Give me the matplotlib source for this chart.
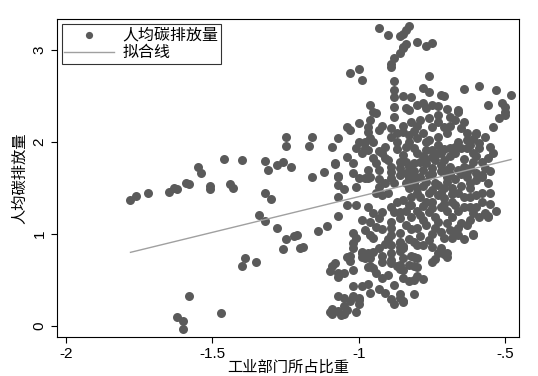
import matplotlib
matplotlib.use("Agg")
import matplotlib.pyplot as plt
import numpy as np

plt.rcParams['font.family'] = ['Liberation Sans', 'DejaVu Sans']

# industry share (log) vs per-capita carbon emission (log)
sparse_pts = [
    (-1.78, 1.37), (-1.76, 1.41), (-1.72, 1.45), (-1.65, 1.46), (-1.62, 1.49), (-1.63, 1.50),
    (-1.59, 1.55), (-1.58, 1.54), (-1.55, 1.73), (-1.54, 1.66), (-1.51, 1.52), (-1.51, 1.49),
    (-1.46, 1.82), (-1.40, 1.80), (-1.32, 1.79), (-1.44, 1.54), (-1.43, 1.50), (-1.34, 1.21),
    (-1.32, 1.14), (-1.32, 1.45), (-1.40, 0.65), (-1.39, 0.74), (-1.35, 0.69), (-1.58, 0.33),
    (-1.62, 0.10), (-1.60, 0.05), (-1.60, -0.03), (-1.47, 0.14), (-1.31, 1.70),
    (-1.28, 1.75), (-1.26, 1.78), (-1.23, 1.73), (-1.25, 2.05), (-1.25, 1.96), (-1.16, 2.05),
    (-1.17, 1.96), (-1.07, 2.04), (-1.09, 1.95), (-1.16, 1.62), (-1.12, 1.67), (-1.08, 1.76),
    (-1.07, 1.62), (-1.04, 1.84), (-1.30, 1.38), (-1.28, 1.07), (-1.25, 0.95), (-1.26, 0.84),
    (-1.22, 0.98), (-1.20, 0.85), (-1.19, 0.86), (-1.14, 1.03), (-1.11, 1.09), (-1.07, 1.20),
    (-1.05, 1.49), (-1.21, 0.99),
]

lower_pts = [
    (-1.09, 0.65), (-1.08, 0.68), (-1.10, 0.60), (-1.07, 0.57), (-1.05, 0.58), (-1.07, 0.33),
    (-1.09, 0.18), (-1.07, 0.16), (-1.05, 0.22), (-1.09, 0.13), (-1.05, 0.13), (-1.03, 0.27),
    (-1.00, 0.30), (-1.00, 0.24), (-1.02, 0.43), (-0.99, 0.43), (-0.97, 0.46), (-0.96, 0.36),
    (-0.93, 0.40), (-0.91, 0.36), (-0.89, 0.29), (-0.88, 0.24), (-0.86, 0.35), (-0.85, 0.27),
    (-0.81, 0.35), (-0.92, 0.52), (-1.03, 0.76), (-1.03, 0.71), (-0.99, 0.79), (-0.98, 0.74),
    (-0.96, 0.65), (-0.93, 0.85), (-0.91, 0.89), (-0.92, 0.76), (-0.89, 0.68), (-0.87, 0.65),
    (-0.86, 0.62), (-0.83, 0.49), (-0.81, 0.65), (-0.80, 0.54), (-0.78, 0.51), (-0.86, 0.82),
    (-0.85, 0.74), (-0.82, 0.76), (-0.80, 0.74), (-0.74, 0.73), (-0.71, 0.78), (-0.86, 0.90),
    (-0.85, 0.87), (-1.04, 0.17), (-1.06, 0.12), (-1.10, 0.15), (-1.01, 0.15), (-1.00, 0.28),
    (-1.02, 0.32), (-1.05, 0.30), (-0.86, 0.30), (-0.97, 0.64), (-0.95, 0.63), (-0.99, 0.75),
    (-0.96, 0.74), (-0.89, 0.72), (-0.86, 0.66), (-1.02, 0.61), (-1.07, 0.53), (-0.80, 0.64),
    (-0.83, 0.66), (-0.75, 0.70), (-0.70, 0.75), (-0.85, 0.61), (-0.85, 0.52), (-0.81, 0.50),
    (-0.85, 0.26), (-1.04, 0.75), (-0.92, 0.70), (-0.94, 0.58), (-0.90, 0.55), (-0.88, 0.45),
]

middle_pts = [
    (-1.07, 1.53), (-1.07, 1.40), (-1.00, 1.61), (-0.97, 1.61), (-1.01, 1.51), (-0.93, 1.51),
    (-0.92, 1.42), (-0.89, 1.61), (-0.88, 1.55), (-1.04, 1.32), (-1.01, 1.32), (-0.97, 1.29),
    (-0.95, 1.23), (-0.99, 1.15), (-0.96, 1.13), (-0.93, 1.17), (-0.89, 1.29), (-0.88, 1.24),
    (-0.92, 1.24), (-0.89, 1.13), (-0.86, 1.17), (-1.02, 1.01), (-1.01, 0.96), (-0.98, 1.04),
    (-0.96, 0.99), (-0.95, 0.96), (-0.89, 1.07), (-0.89, 0.99), (-0.86, 1.01), (-0.86, 0.91),
    (-1.02, 0.90), (-1.02, 0.85), (-0.99, 0.80), (-0.97, 0.79), (-0.95, 0.80), (-0.89, 0.88),
    (-0.89, 0.79), (-0.86, 0.86), (-0.98, 1.61),
    (-1.04, 2.16), (-1.03, 2.13), (-1.00, 2.21), (-0.96, 2.40), (-0.94, 2.32), (-0.96, 2.24),
    (-0.97, 2.16), (-0.97, 2.11), (-0.92, 2.18), (-0.93, 2.13), (-0.89, 2.15), (-0.87, 2.10),
    (-0.89, 2.05), (-0.88, 2.38), (-0.88, 2.27), (-0.88, 2.49), (-1.00, 2.00), (-1.01, 1.93),
    (-0.98, 2.00), (-0.96, 2.04), (-0.95, 2.00), (-0.98, 1.93), (-0.97, 1.91), (-0.91, 1.95),
    (-0.92, 1.88), (-0.91, 1.83), (-0.99, 1.88), (-1.02, 1.77), (-1.08, 1.77), (-0.95, 1.83),
    (-0.94, 1.77), (-0.93, 1.70), (-0.97, 1.70), (-0.96, 1.62), (-0.89, 1.73), (-0.89, 1.67),
    (-0.86, 1.78), (-0.86, 1.72), (-0.86, 1.64), (-1.02, 1.66), (-1.07, 1.63), (-0.85, 2.11),
    (-0.87, 1.35), (-0.90, 1.45), (-0.94, 1.45), (-0.91, 1.55), (-0.93, 1.60), (-0.90, 1.80),
    (-0.93, 1.90), (-0.87, 1.92), (-0.87, 2.00), (-0.92, 1.05), (-0.94, 1.08), (-0.90, 0.95),
]

upper_pts = [
    (-0.93, 3.24), (-0.90, 3.16), (-0.86, 3.15), (-0.85, 3.18), (-0.84, 3.22), (-0.83, 3.26),
    (-0.86, 2.97), (-0.85, 3.02), (-0.84, 3.07), (-0.88, 2.91), (-0.89, 2.85), (-0.89, 2.82),
    (-0.80, 3.09), (-0.77, 3.05), (-0.75, 3.08), (-1.03, 2.75), (-1.00, 2.80), (-0.99, 2.68),
    (-0.88, 2.66), (-0.88, 2.57), (-0.85, 2.50), (-0.82, 2.49), (-0.76, 2.72), (-0.78, 2.59),
    (-0.76, 2.55), (-0.72, 2.51), (-0.64, 2.58), (-0.59, 2.61), (-0.53, 2.57), (-0.48, 2.51),
    (-0.51, 2.43), (-0.50, 2.38), (-0.50, 2.33), (-0.56, 2.40), (-0.52, 2.26), (-0.54, 2.16),
    (-0.95, 2.33), (-0.83, 2.35), (-0.80, 2.40), (-0.78, 2.42), (-0.73, 2.39), (-0.70, 2.36),
    (-0.66, 2.35), (-0.60, 2.09), (-0.71, 2.50), (-0.85, 3.03),
]

core_pts = [
    (-0.84, 2.37), (-0.77, 2.37), (-0.75, 2.40), (-0.66, 2.33), (-0.73, 2.29), (-0.67, 2.24),
    (-0.69, 2.18), (-0.85, 2.18), (-0.82, 2.22), (-0.79, 2.24), (-0.76, 2.26), (-0.75, 2.16),
    (-0.71, 2.16), (-0.70, 2.10), (-0.65, 2.15), (-0.63, 2.10), (-0.60, 2.10), (-0.59, 1.99),
    (-0.50, 2.29), (-0.83, 2.00), (-0.81, 1.93), (-0.85, 1.86), (-0.80, 2.04), (-0.77, 2.00),
    (-0.76, 2.02), (-0.77, 1.91), (-0.75, 1.91), (-0.73, 1.97), (-0.75, 1.84), (-0.72, 1.88),
    (-0.71, 1.80), (-0.69, 1.93), (-0.66, 2.00), (-0.67, 1.88), (-0.65, 1.93), (-0.63, 2.02),
    (-0.63, 1.93), (-0.61, 1.88), (-0.59, 1.93), (-0.56, 1.83), (-0.83, 1.73), (-0.81, 1.77),
    (-0.79, 1.78), (-0.77, 1.77), (-0.75, 1.72), (-0.72, 1.75), (-0.69, 1.73), (-0.66, 1.70),
    (-0.64, 1.73), (-0.63, 1.67), (-0.60, 1.66), (-0.58, 1.64), (-0.82, 1.64), (-0.79, 1.62),
    (-0.76, 1.64), (-0.70, 1.62), (-0.83, 1.61), (-0.80, 1.61), (-0.83, 1.50), (-0.85, 1.37),
    (-0.83, 1.32), (-0.86, 1.24), (-0.77, 1.57), (-0.73, 1.53), (-0.70, 1.57), (-0.68, 1.50),
    (-0.63, 1.62), (-0.60, 1.59), (-0.58, 1.62), (-0.62, 1.50), (-0.58, 1.45), (-0.79, 1.40),
    (-0.77, 1.35), (-0.75, 1.35), (-0.71, 1.39), (-0.72, 1.29), (-0.68, 1.35), (-0.64, 1.40),
    (-0.64, 1.29), (-0.62, 1.29), (-0.60, 1.29), (-0.61, 1.23), (-0.57, 1.23), (-0.56, 1.18),
    (-0.79, 1.21), (-0.76, 1.24), (-0.74, 1.18), (-0.68, 1.18), (-0.65, 1.12), (-0.63, 1.10),
    (-0.80, 1.07), (-0.74, 1.07), (-0.72, 1.02), (-0.69, 1.04), (-0.66, 0.99), (-0.68, 0.96),
    (-0.61, 0.99), (-0.85, 0.85), (-0.81, 0.91), (-0.80, 0.88), (-0.78, 0.88), (-0.76, 0.93),
    (-0.75, 0.86), (-0.71, 0.96), (-0.72, 0.85), (-0.70, 0.79), (-0.73, 0.79), (-0.81, 0.75),
    (-0.78, 1.85), (-0.74, 1.80), (-0.70, 1.70), (-0.67, 1.60), (-0.72, 1.45), (-0.76, 1.45),
    (-0.80, 1.50), (-0.66, 1.45), (-0.70, 1.25), (-0.78, 1.30), (-0.82, 1.40), (-0.74, 1.55),
    (-0.69, 1.85), (-0.61, 1.78), (-0.64, 1.82), (-0.78, 2.10), (-0.81, 2.12), (-0.73, 2.05),
    (-0.62, 1.40), (-0.66, 1.25), (-0.84, 1.10), (-0.82, 1.05), (-0.78, 1.15), (-0.56, 1.20),
    (-0.57, 1.22), (-0.61, 1.00), (-0.67, 1.03),
    (-0.84, 1.95), (-0.80, 1.88), (-0.77, 1.82), (-0.73, 1.88), (-0.71, 1.92), (-0.67, 1.95),
    (-0.62, 1.97), (-0.60, 1.85), (-0.58, 1.78), (-0.57, 1.72), (-0.55, 1.68), (-0.62, 1.72),
    (-0.65, 1.65), (-0.69, 1.65), (-0.72, 1.68), (-0.75, 1.65), (-0.78, 1.70), (-0.81, 1.69),
    (-0.84, 1.78), (-0.84, 1.66), (-0.84, 1.55), (-0.81, 1.55), (-0.78, 1.52), (-0.75, 1.48),
    (-0.71, 1.50), (-0.65, 1.52), (-0.62, 1.55), (-0.56, 1.55), (-0.55, 1.45), (-0.60, 1.42),
    (-0.68, 1.43), (-0.73, 1.42), (-0.80, 1.45), (-0.82, 1.32), (-0.80, 1.25), (-0.75, 1.28),
    (-0.71, 1.33), (-0.67, 1.32), (-0.58, 1.35), (-0.55, 1.33), (-0.53, 1.25), (-0.59, 1.18),
    (-0.62, 1.15), (-0.70, 1.12), (-0.73, 1.13), (-0.77, 1.10), (-0.82, 1.18), (-0.84, 1.25),
    (-0.83, 2.08), (-0.80, 2.17), (-0.73, 2.22), (-0.69, 2.27), (-0.64, 2.22), (-0.61, 2.03),
    (-0.57, 2.05), (-0.55, 1.95), (-0.54, 1.88), (-0.83, 0.95), (-0.79, 0.98), (-0.75, 1.00),
    (-0.66, 1.06), (-0.64, 0.95),
]

# fitted line end points
fit_x = [-1.78, -0.48]
fit_y = [0.80, 1.81]

x_ticks = [-2, -1.5, -1, -0.5]
x_ticklabels = ['-2', '-1.5', '-1', '-.5']
y_ticks = [0, 1, 2, 3]
y_ticklabels = ['0', '1', '2', '3']

all_pts = np.array(sparse_pts + lower_pts + middle_pts + upper_pts + core_pts)

fig = plt.figure(figsize=(5.38, 3.76), dpi=100)
ax = fig.add_axes([0.106, 0.104, 0.859, 0.845])

ax.scatter(all_pts[:, 0], all_pts[:, 1], s=42, color='#5a5a5a', linewidths=0,
           label='人均碳排放量', zorder=2)
ax.plot(fit_x, fit_y, color='#a0a0a0', lw=1.0, label='拟合线', zorder=3)

ax.set_xlim(-2.031, -0.452)
ax.set_ylim(-0.12, 3.337)
ax.set_xticks(x_ticks)
ax.set_xticklabels(x_ticklabels)
ax.set_yticks(y_ticks)
ax.set_yticklabels(y_ticklabels, rotation=90, va='center')
ax.tick_params(direction='out', length=4, width=0.8, labelsize=11, colors='black')

cjk = ['Noto Sans CJK SC', 'DejaVu Sans']
ax.set_xlabel('工业部门所占比重', family=cjk, fontsize=11, labelpad=-2)
ax.set_ylabel('人均碳排放量', family=cjk, fontsize=11, labelpad=3)

leg = ax.legend(loc='upper left', prop={'family': cjk, 'size': 11.5},
                frameon=True, fancybox=False, edgecolor='black',
                borderpad=0.15, labelspacing=0.05, handlelength=3.1,
                handletextpad=0.55, borderaxespad=0.3, scatterpoints=1,
                markerscale=0.8)
leg.get_frame().set_linewidth(0.8)

for s in ax.spines.values():
    s.set_linewidth(0.8)

fig.savefig('out.png', dpi=100)
